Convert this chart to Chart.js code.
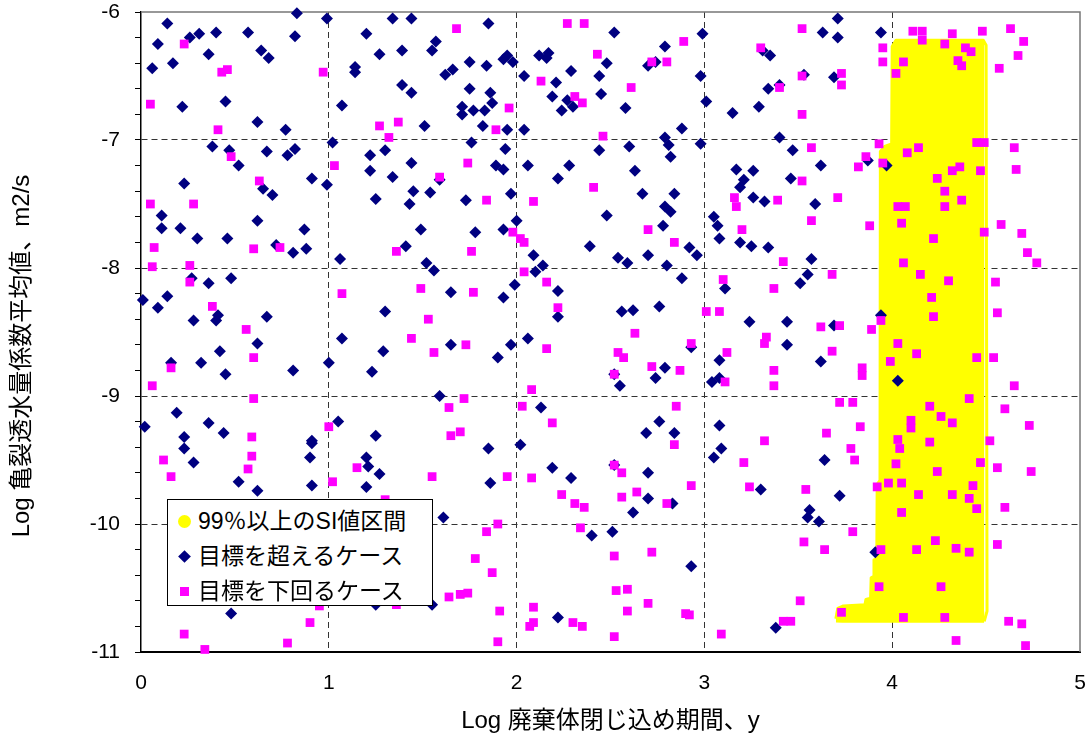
<!DOCTYPE html>
<html>
<head>
<meta charset="utf-8">
<script src="https://cdn.jsdelivr.net/npm/chart.js@4.4.1/dist/chart.umd.min.js"></script>
<style>
  body { margin: 0; background: #fff; }
  #wrap { position: relative; width: 1088px; height: 745px; }
  #legend {
    position: absolute; left: 167px; top: 499px; width: 266px; height: 107px;
    box-sizing: border-box; border: 1px solid #000; background: #fff;
    font-family: "Liberation Sans", "Noto Sans CJK JP", sans-serif; font-size: 23px; color: #000;
  }
  #legend .row { position: absolute; left: 0; height: 35px; line-height: 35px; white-space: nowrap; }
  #legend .txt { position: absolute; left: 30px; top: 0; }
  #legend .mk { position: absolute; }
  .circle { width: 13px; height: 13px; border-radius: 50%; background: #ffff00; left: 10px; top: 11px; }
  .diamond { width: 9px; height: 9px; background: #000080; transform: rotate(45deg); left: 12px; top: 13px; }
  .square { width: 9px; height: 9px; background: #ff00ff; left: 12px; top: 13px; }
</style>
</head>
<body>
<div id="wrap">
  <canvas id="chart"></canvas>
  <div id="legend">
    <div class="row" style="top:4px"><span class="mk circle"></span><span class="txt" id="lab0"></span></div>
    <div class="row" style="top:39px"><span class="mk diamond"></span><span class="txt" id="lab1"></span></div>
    <div class="row" style="top:74px"><span class="mk square"></span><span class="txt" id="lab2"></span></div>
  </div>
</div>
<script>
// axis text
const xTitle = 'Log 廃棄体閉じ込め期間、y';
const yTitle = 'Log 亀裂透水量係数平均値、m2/s';
const xTicks = [0, 1, 2, 3, 4, 5];
const yLabels = [-11, -10, -9, -8, -7, -6];
const seriesNames = ['99％以上のSI値区間', '目標を超えるケース', '目標を下回るケース'];

// 99% SI band: upper outline (x, y), filled down to bandFloor
const bandFloor = -10.77;
const band = [
  [3.700, -10.74], [3.710, -10.66], [3.740, -10.64], [3.855, -10.63], [3.860, -10.59],
  [3.885, -10.58], [3.888, -10.42], [3.900, -10.41], [3.903, -10.28], [3.918, -10.27],
  [3.920, -9.69], [3.935, -9.66], [3.937, -7.09], [3.960, -7.05], [3.997, -7.03],
  [4.000, -6.27], [4.020, -6.22], [4.485, -6.22], [4.500, -6.26], [4.505, -10.68], [4.490, -10.76]
];

// cases above target (navy diamonds)
const above = [
  [0.14,-6.09],[0.83,-6.01],[0.99,-6.05],[1.34,-6.05],[1.44,-6.05],[0.09,-6.25],[0.26,-6.20],[0.31,-6.17],
  [0.40,-6.16],[0.57,-6.16],[0.82,-6.19],[1.20,-6.17],[0.36,-6.33],[0.64,-6.30],[0.68,-6.36],[1.27,-6.33],
  [1.39,-6.30],[1.55,-6.30],[1.57,-6.23],[0.06,-6.44],[0.17,-6.40],[1.14,-6.43],[1.14,-6.47],[1.62,-6.49],
  [1.66,-6.45],[1.39,-6.57],[1.44,-6.63],[0.22,-6.74],[0.45,-6.70],[1.07,-6.73],[0.62,-6.86],[0.77,-6.92],
  [1.51,-6.89],[1.02,-7.02],[0.38,-7.05],[0.47,-7.08],[0.67,-7.09],[0.78,-7.12],[0.82,-7.07],[1.22,-7.12],
  [1.30,-7.08],[0.52,-7.20],[1.44,-7.18],[1.22,-7.24],[1.34,-7.29],[0.91,-7.30],[0.99,-7.35],[0.23,-7.34],
  [0.65,-7.38],[0.70,-7.43],[1.45,-7.40],[1.54,-7.41],[1.59,-7.31],[1.25,-7.46],[1.43,-7.50],[0.11,-7.59],
  [0.62,-7.63],
  [1.85,-6.09],[2.52,-6.16],[2.99,-6.17],[2.79,-6.27],[3.31,-6.30],[3.35,-6.34],[1.75,-6.39],[1.84,-6.42],
  [1.93,-6.37],[1.95,-6.34],[1.98,-6.39],[2.12,-6.34],[2.17,-6.32],[2.16,-6.36],[2.04,-6.50],[2.29,-6.46],
  [2.48,-6.40],[2.44,-6.50],[2.70,-6.42],[2.74,-6.39],[2.98,-6.50],[2.21,-6.55],[1.75,-6.60],[1.86,-6.63],
  [2.45,-6.64],[2.19,-6.66],[2.27,-6.69],[2.30,-6.74],[2.24,-6.77],[3.01,-6.70],[1.71,-6.74],[1.71,-6.80],
  [1.77,-6.77],[1.83,-6.77],[1.87,-6.71],[2.58,-6.75],[3.15,-6.79],[3.29,-6.74],[3.34,-6.60],[1.82,-6.89],
  [1.95,-6.92],[2.04,-6.92],[2.88,-6.91],[1.76,-7.02],[1.94,-7.07],[2.44,-7.08],[2.60,-7.05],[2.79,-6.98],
  [2.81,-7.04],[2.82,-7.13],[2.98,-7.03],[1.89,-7.20],[1.93,-7.23],[2.06,-7.20],[2.28,-7.20],[2.22,-7.30],
  [2.63,-7.24],[3.17,-7.23],[3.26,-7.24],[3.21,-7.31],[3.19,-7.37],[1.73,-7.47],[1.97,-7.42],[2.67,-7.42],
  [2.84,-7.42],[2.79,-7.52],[2.82,-7.56],[3.26,-7.45],[3.32,-7.48],[2.00,-7.63],[2.48,-7.59],[3.05,-7.60],
  [3.71,-6.05],[3.63,-6.16],[3.71,-6.20],[3.94,-6.16],[3.53,-6.49],[3.69,-6.51],[3.40,-6.57],[3.40,-6.98],
  [3.47,-7.08],[3.62,-7.20],[3.46,-7.30],[3.87,-7.16],[3.97,-7.20],[3.59,-7.50],
  [0.11,-7.69],[0.21,-7.69],[0.30,-7.77],[0.46,-7.77],[0.72,-7.82],[0.81,-7.88],[0.87,-7.70],[0.88,-7.85],
  [1.06,-7.93],[1.41,-7.83],[1.49,-7.70],[1.52,-7.96],[1.56,-8.02],[1.65,-8.19],[0.27,-8.08],[0.36,-8.12],
  [0.48,-8.08],[0.01,-8.25],[0.09,-8.31],[0.14,-8.22],[0.28,-8.41],[0.40,-8.41],[0.41,-8.37],[0.67,-8.38],
  [1.30,-8.34],[1.07,-8.55],[0.62,-8.59],[0.42,-8.65],[1.29,-8.65],[1.65,-8.60],[0.16,-8.74],[0.32,-8.74],
  [0.45,-8.83],[0.81,-8.80],[1.00,-8.74],[1.23,-8.81],[1.59,-9.00],[0.19,-9.13],[0.02,-9.24],[0.36,-9.21],
  [0.23,-9.32],[0.44,-9.29],[1.05,-9.20],[0.91,-9.35],[1.25,-9.31],
  [1.78,-7.72],[1.93,-7.70],[2.39,-7.83],[2.54,-7.92],[2.59,-7.96],[2.70,-7.90],[2.78,-7.67],[2.80,-7.98],
  [2.92,-7.84],[2.96,-7.90],[2.88,-8.08],[3.07,-7.67],[3.08,-7.77],[3.19,-7.80],[3.25,-7.83],[3.34,-7.84],
  [2.09,-7.90],[2.14,-7.98],[2.10,-8.03],[1.99,-8.13],[2.22,-8.18],[1.93,-8.23],[2.22,-8.38],[2.56,-8.34],
  [2.62,-8.33],[2.76,-8.30],[3.24,-8.42],[3.11,-8.16],[2.06,-8.55],[1.97,-8.60],[1.90,-8.70],[2.93,-8.62],
  [2.79,-8.78],[2.74,-8.86],[2.52,-8.83],[2.55,-8.92],[3.08,-8.72],[3.04,-8.89],[3.08,-8.86],[2.13,-9.09],
  [2.76,-9.20],[2.69,-9.29],[2.84,-9.29],[3.08,-9.23],
  [3.57,-7.93],[3.55,-8.05],[3.51,-8.12],[3.44,-8.42],[3.44,-8.60],[3.62,-8.73],[3.69,-8.45],[3.94,-8.37],
  [4.03,-8.88],
  [0.23,-9.41],[0.28,-9.52],[0.91,-9.37],[0.90,-9.48],[1.20,-9.48],[1.21,-9.55],[1.27,-9.61],[0.52,-9.67],
  [0.62,-9.74],[0.91,-9.70],[1.20,-9.71],[1.61,-9.95],[0.48,-10.70],[1.55,-10.63],[1.25,-10.63],
  [1.85,-9.41],[2.02,-9.38],[1.86,-9.68],[2.19,-9.56],[2.29,-9.64],[2.52,-9.54],[2.70,-9.60],[2.70,-9.80],
  [2.83,-9.84],[2.62,-9.91],[3.05,-9.48],[3.09,-9.41],[3.30,-9.73],[2.40,-10.09],[2.51,-10.06],[2.93,-10.33],
  [2.22,-10.73],
  [3.64,-9.50],[3.72,-9.78],[3.56,-9.89],[3.55,-9.95],[3.61,-9.98],[3.91,-10.22],[3.38,-10.81]
];

// cases below target (magenta squares)
const below = [
  [0.23,-6.25],[0.43,-6.47],[0.46,-6.45],[0.97,-6.47],[0.05,-6.72],[0.41,-6.92],[1.27,-6.89],[1.37,-6.86],
  [1.32,-6.98],[0.48,-7.13],[1.03,-7.20],[0.63,-7.32],[1.59,-7.29],[0.05,-7.50],[0.28,-7.50],[1.68,-6.13],
  [2.27,-6.09],[2.36,-6.09],[2.89,-6.23],[3.30,-6.28],[2.43,-6.33],[2.72,-6.39],[2.80,-6.39],[2.13,-6.54],
  [2.61,-6.59],[2.31,-6.66],[2.35,-6.71],[1.96,-6.75],[1.89,-6.92],[2.46,-6.97],[1.74,-7.18],[2.41,-7.37],
  [3.16,-7.45],[3.17,-7.52],[1.84,-7.47],[2.09,-7.48],
  [3.52,-6.13],[4.11,-6.15],[4.16,-6.15],[4.32,-6.17],[4.48,-6.15],[4.63,-6.13],[4.70,-6.23],[4.16,-6.22],
  [4.28,-6.25],[3.95,-6.28],[4.39,-6.28],[4.42,-6.31],[4.67,-6.34],[3.95,-6.39],[4.06,-6.39],[4.35,-6.38],
  [4.37,-6.42],[4.57,-6.44],[4.02,-6.48],[3.52,-6.50],[3.73,-6.48],[3.73,-6.57],[3.40,-6.59],[3.52,-6.80],
  [3.93,-7.03],[4.45,-7.02],[4.49,-7.02],[4.65,-7.06],[3.57,-7.06],[4.14,-7.06],[4.08,-7.10],[3.86,-7.13],
  [3.82,-7.21],[3.95,-7.18],[4.36,-7.21],[4.32,-7.24],[4.47,-7.24],[4.66,-7.23],[3.52,-7.32],[4.24,-7.30],
  [4.28,-7.40],[3.39,-7.47],[3.71,-7.45],[4.37,-7.47],[4.03,-7.52],[4.07,-7.52],[4.28,-7.52],[3.57,-7.63],
  [3.88,-7.67],[4.05,-7.65],[4.58,-7.66],
  [0.07,-7.84],[0.06,-7.99],[0.26,-7.98],[0.26,-8.11],[0.38,-8.30],[0.60,-7.85],[0.74,-7.84],[1.36,-7.87],
  [1.07,-8.20],[1.49,-8.16],[1.53,-8.40],[0.56,-8.48],[0.60,-8.70],[1.44,-8.55],[1.56,-8.66],[0.16,-8.78],
  [0.06,-8.92],[0.60,-9.02],[1.64,-9.09],[1.00,-9.24],[0.59,-9.32],[1.65,-9.31],
  [1.98,-7.72],[2.02,-7.77],[2.04,-7.80],[1.76,-7.87],[2.70,-7.70],[2.84,-7.80],[3.20,-7.70],[2.04,-8.03],
  [2.16,-8.11],[1.77,-8.19],[2.22,-8.31],[3.01,-8.34],[3.08,-8.34],[3.10,-8.09],[2.63,-8.51],[1.73,-8.60],
  [2.16,-8.63],[2.54,-8.66],[2.57,-8.70],[2.93,-8.59],[2.72,-8.77],[2.87,-8.80],[3.12,-8.66],[3.33,-8.54],
  [3.32,-8.59],[2.52,-8.83],[3.11,-8.89],[2.08,-8.95],[1.72,-9.02],[2.03,-9.08],[2.85,-9.08],[2.19,-9.21],
  [1.70,-9.28],[3.32,-9.35],
  [4.22,-7.77],[4.49,-7.72],[4.69,-7.73],[4.72,-7.88],[4.77,-7.96],[3.42,-7.95],[3.68,-8.05],[3.37,-8.16],
  [4.06,-7.96],[4.15,-8.05],[4.30,-8.10],[4.55,-8.11],[4.21,-8.23],[4.22,-8.38],[4.56,-8.35],[3.94,-8.41],
  [3.89,-8.48],[3.62,-8.46],[3.72,-8.45],[3.68,-8.65],[4.03,-8.59],[4.13,-8.67],[3.99,-8.73],[4.45,-8.70],
  [4.54,-8.70],[3.37,-8.80],[3.84,-8.78],[3.84,-8.84],[3.37,-8.92],[4.65,-8.92],[4.41,-9.02],[3.72,-9.05],
  [3.79,-9.05],[4.20,-9.08],[4.60,-9.10],[4.26,-9.16],[4.32,-9.21],[4.10,-9.19],[4.10,-9.25],[3.83,-9.24],
  [3.65,-9.29],[4.73,-9.23],[4.03,-9.34],[4.20,-9.36],[4.52,-9.35],
  [0.59,-9.47],[0.57,-9.57],[0.12,-9.50],[0.16,-9.63],[1.02,-9.67],[1.15,-9.56],[1.55,-9.63],[1.30,-9.81],
  [1.64,-10.57],[0.90,-10.77],[0.23,-10.86],[0.34,-10.98],[0.78,-10.93],[0.95,-10.64],[1.36,-10.63],
  [2.84,-9.38],[3.21,-9.52],[1.95,-9.63],[2.08,-9.64],[2.52,-9.54],[2.56,-9.60],[2.93,-9.70],[3.24,-9.71],
  [2.24,-9.77],[2.31,-9.84],[2.36,-9.87],[2.56,-9.79],[2.64,-9.75],[2.80,-9.84],[1.90,-10.00],[1.84,-10.06],
  [2.34,-10.03],[1.78,-10.27],[1.87,-10.38],[2.52,-10.25],[2.72,-10.22],[1.70,-10.55],[1.74,-10.54],[2.53,-10.52],
  [2.59,-10.51],[1.91,-10.68],[2.09,-10.65],[2.09,-10.77],[2.07,-10.80],[2.30,-10.77],[2.35,-10.80],[2.59,-10.68],
  [2.70,-10.62],[2.90,-10.70],[2.92,-10.71],[1.90,-10.92],[2.52,-10.88],[3.09,-10.86],
  [3.78,-9.41],[3.80,-9.50],[4.04,-9.41],[4.02,-9.53],[4.24,-9.59],[4.47,-9.52],[4.56,-9.56],[4.74,-9.59],
  [3.54,-9.73],[3.92,-9.71],[3.98,-9.68],[4.05,-9.68],[4.14,-9.77],[4.32,-9.77],[4.43,-9.70],[4.41,-9.80],
  [4.45,-9.88],[4.60,-9.87],[4.05,-9.91],[3.79,-10.06],[3.53,-10.14],[3.64,-10.20],[3.94,-10.20],[4.13,-10.20],
  [4.23,-10.13],[4.34,-10.19],[4.41,-10.22],[4.56,-10.16],[3.93,-10.49],[4.26,-10.49],[3.51,-10.60],[3.73,-10.69],
  [4.06,-10.73],[4.28,-10.73],[3.42,-10.76],[3.46,-10.76],[4.62,-10.76],[4.69,-10.78],[4.34,-10.91],[4.71,-10.95]
];

const toXY = arr => arr.map(p => ({ x: p[0], y: p[1] }));

// top and right edge of the plot box
const plotFrame = {
  id: 'plotFrame',
  beforeDatasetsDraw(chart) {
    const a = chart.chartArea, g = chart.ctx;
    g.save();
    g.strokeStyle = '#777';
    g.lineWidth = 1.5;
    g.beginPath();
    g.moveTo(a.left, a.top);
    g.lineTo(a.right, a.top);
    g.lineTo(a.right, a.bottom);
    g.stroke();
    g.restore();
  }
};

// keep tick labels from pushing the plot area inwards
const noLabelPadding = s => { s.paddingTop = 0; s.paddingBottom = 0; s.paddingLeft = 0; s.paddingRight = 0; };

Chart.defaults.font.family = '"Liberation Sans", "Noto Sans CJK JP", sans-serif';
Chart.defaults.color = '#000';

const chart = new Chart(document.getElementById('chart'), {
  type: 'scatter',
  data: {
    datasets: [
      {
        type: 'line',
        label: seriesNames[0],
        data: toXY(band),
        fill: { value: bandFloor },
        backgroundColor: '#ffff00',
        borderColor: '#ffff00',
        borderWidth: 3,
        borderJoinStyle: 'round',
        pointRadius: 0,
        tension: 0,
        order: 3
      },
      {
        label: seriesNames[1],
        data: toXY(above),
        pointStyle: 'rectRot',
        pointRadius: 6,
        pointBorderWidth: 0,
        backgroundColor: '#000080',
        borderColor: '#000080',
        clip: false,
        order: 2
      },
      {
        label: seriesNames[2],
        data: toXY(below),
        pointStyle: 'rect',
        pointRadius: 6.2,
        pointBorderWidth: 0,
        backgroundColor: '#ff00ff',
        borderColor: '#ff00ff',
        clip: false,
        order: 1
      }
    ]
  },
  options: {
    responsive: true,
    maintainAspectRatio: false,
    animation: false,
    events: [],
    layout: { padding: { left: 0, top: 12, right: 8, bottom: 0 } },
    plugins: {
      legend: { display: false },
      tooltip: { enabled: false }
    },
    scales: {
      x: {
        type: 'linear',
        min: 0,
        max: 5,
        afterBuildTicks: s => { s.ticks = xTicks.map(v => ({ value: v })); },
        afterFit: s => { s.height = 93; noLabelPadding(s); },
        ticks: { font: { size: 21 }, padding: 19, maxRotation: 0, callback: v => String(v) },
        grid: {
          color: c => (c.tick && c.tick.value > 0 && c.tick.value < 5) ? '#333' : 'rgba(0,0,0,0)',
          drawTicks: false
        },
        border: { display: true, color: '#000', width: 2, dash: [6, 4] },
        title: { display: true, text: xTitle, font: { size: 24 }, padding: { top: 0, bottom: 9 } }
      },
      y: {
        min: -11,
        max: -6,
        afterFit: s => { s.width = 141; noLabelPadding(s); },
        ticks: {
          stepSize: 0.2,
          autoSkip: false,
          padding: 15,
          font: { size: 21, lineHeight: 1 },
          callback: v => {
            const r = Math.round(v);
            return (Math.abs(v - r) < 1e-6 && yLabels.includes(r)) ? String(r) : '';
          }
        },
        grid: {
          color: c => {
            if (!c.tick) return 'rgba(0,0,0,0)';
            const v = c.tick.value, r = Math.round(v);
            return (Math.abs(v - r) < 1e-6 && r > -11 && r < -6) ? '#333' : 'rgba(0,0,0,0)';
          },
          tickColor: '#000',
          tickLength: 6,
          drawTicks: true
        },
        border: { display: true, color: '#000', width: 1.5, dash: [6, 4] },
        title: { display: true, text: yTitle + '\u3000\u3000', font: { size: 24 }, padding: { top: 8, bottom: 0 } }
      }
    }
  },
  plugins: [plotFrame]
});

// legend labels come from the datasets
chart.data.datasets.forEach((d, i) => { document.getElementById('lab' + i).textContent = d.label; });
</script>
</body>
</html>
